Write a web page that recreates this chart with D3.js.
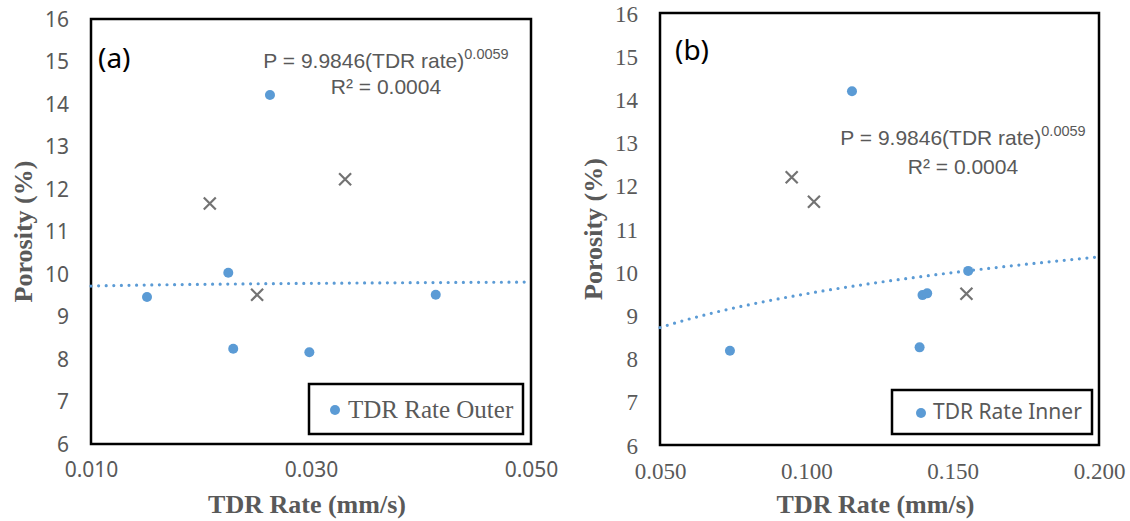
<!DOCTYPE html>
<html><head><meta charset="utf-8">
<script src="https://cdn.jsdelivr.net/npm/d3@7"></script>
<style>body{margin:0;background:#fff}</style>
</head><body><svg id="c" width="1130" height="521"></svg>
<script>
// ---- data ----
const outerRate = [0.01509, 0.02248, 0.02293, 0.02985, 0.04134, 0.02627];
const outerPorosity = [9.46, 10.03, 8.24, 8.16, 9.51, 14.21];
const outerExcludedRate = [0.0208, 0.0331, 0.0251];
const outerExcludedPorosity = [11.66, 12.23, 9.51];
const innerRate = [0.0739, 0.1156, 0.1553, 0.1397, 0.1413, 0.1387];
const innerPorosity = [8.18, 14.19, 10.03, 9.47, 9.51, 8.26];
const innerExcludedRate = [0.0950, 0.1026, 0.1547];
const innerExcludedPorosity = [12.2, 11.63, 9.50];
const outerTrend = [9.9846, 0.0059];   // P = a * x^b
const innerTrend = [12.64, 0.124];
const outerXTicks = [0.010, 0.030, 0.050];
const innerXTicks = [0.050, 0.100, 0.150, 0.200];
const yTicks = [6, 7, 8, 9, 10, 11, 12, 13, 14, 15, 16];
const equationMain = "P = 9.9846(TDR rate)";
const equationExp = "0.0059";
const equationR2 = "R² = 0.0004";

const svg = d3.select("#c");
const BLUE = "#5b9bd5", GREY = "#595959", XCOL = "#737373";
const SANS = "'Noto Sans', 'Open Sans', sans-serif";
const EQSANS = "'Liberation Sans', Arial, sans-serif";
const SERIF = "'Liberation Serif', 'DejaVu Serif', serif";

function panel(cfg) {
  const x = d3.scaleLinear().domain(cfg.xDomain).range(cfg.xRange);
  const y = d3.scaleLinear().domain([6, 16]).range(cfg.yRange);
  const g = svg.append("g");

  // y axis
  const ya = g.append("g").attr("transform", `translate(${cfg.xRange[0]},0)`)
    .call(d3.axisLeft(y).tickValues(yTicks).tickSize(0).tickPadding(22).tickFormat(d3.format("d")));
  ya.select(".domain").remove();
  ya.selectAll("text").attr("font-family", cfg.tickFont).attr("font-size", cfg.tickSize)
    .attr("fill", GREY).attr("dy", "0.35em");

  // x axis
  const xa = g.append("g").attr("transform", `translate(0,${cfg.yRange[0]})`)
    .call(d3.axisBottom(x).tickValues(cfg.xTicks).tickSize(0).tickPadding(18).tickFormat(d3.format(".3f")));
  xa.select(".domain").remove();
  xa.selectAll("text").attr("font-family", cfg.tickFont).attr("font-size", cfg.tickSize).attr("fill", GREY);

  // frame
  g.append("rect").attr("x", cfg.xRange[0]).attr("y", cfg.yRange[1])
    .attr("width", cfg.xRange[1] - cfg.xRange[0]).attr("height", cfg.yRange[0] - cfg.yRange[1])
    .attr("fill", "none").attr("stroke", "#000").attr("stroke-width", 2.5);

  // trend line
  const xs = d3.range(0, 101).map(i => cfg.xDomain[0] + (cfg.xDomain[1] - cfg.xDomain[0]) * i / 100);
  g.append("path").datum(xs)
    .attr("d", d3.line().x(d => x(d)).y(d => y(cfg.trend[0] * Math.pow(d, cfg.trend[1]))))
    .attr("fill", "none").attr("stroke", BLUE).attr("stroke-width", 3.2)
    .attr("stroke-linecap", "round").attr("stroke-dasharray", "0,7.6");

  // points
  g.selectAll("circle.pt").data(cfg.rate.map((r, i) => [r, cfg.por[i]])).join("circle")
    .attr("class", "pt").attr("cx", d => x(d[0])).attr("cy", d => y(d[1])).attr("r", 5).attr("fill", BLUE);

  // excluded markers
  const s = 6;
  g.selectAll("path.ex").data(cfg.exRate.map((r, i) => [r, cfg.exPor[i]])).join("path")
    .attr("class", "ex")
    .attr("d", d => { const cx = x(d[0]), cy = y(d[1]);
      return `M${cx - s},${cy - s}L${cx + s},${cy + s}M${cx - s},${cy + s}L${cx + s},${cy - s}`; })
    .attr("stroke", XCOL).attr("stroke-width", 2.2).attr("fill", "none");

  // panel label
  g.append("text").attr("x", cfg.labelPos[0]).attr("y", cfg.labelPos[1]).text(cfg.label)
    .attr("font-family", SANS).attr("font-size", 28).attr("fill", "#000");

  // equation
  const eq = g.append("text").attr("x", cfg.eqPos[0]).attr("y", cfg.eqPos[1]).attr("text-anchor", "middle")
    .attr("font-family", EQSANS).attr("font-size", 21).attr("fill", GREY);
  eq.append("tspan").text(equationMain);
  eq.append("tspan").attr("dy", -9).attr("font-size", 14.5).text(equationExp);
  g.append("text").attr("x", cfg.eqPos[0]).attr("y", cfg.eqPos[1] + cfg.eqGap).attr("text-anchor", "middle")
    .attr("font-family", EQSANS).attr("font-size", 21).attr("fill", GREY).text(equationR2);

  // legend
  const L = cfg.legend;
  g.append("rect").attr("x", L.x).attr("y", L.y).attr("width", L.w).attr("height", L.h)
    .attr("fill", "#fff").attr("stroke", "#000").attr("stroke-width", 2.5);
  g.append("circle").attr("cx", L.x + L.dot).attr("cy", L.y + L.h / 2 + 1).attr("r", 5).attr("fill", BLUE);
  g.append("text").attr("x", L.x + L.text).attr("y", L.y + L.h / 2).attr("dy", "0.35em")
    .attr("font-family", L.font).attr("font-size", L.size).attr("fill", GREY).text(L.label);

  // axis titles
  g.append("text").attr("x", (cfg.xRange[0] + cfg.xRange[1]) / 2 - 4).attr("y", 513)
    .attr("text-anchor", "middle").attr("font-family", SERIF).attr("font-weight", "bold")
    .attr("font-size", 26).attr("fill", GREY).text("TDR Rate (mm/s)");
  g.append("text").attr("transform", `translate(${cfg.yTitleX},${(cfg.yRange[0] + cfg.yRange[1]) / 2}) rotate(-90)`)
    .attr("text-anchor", "middle").attr("font-family", SERIF).attr("font-weight", "bold")
    .attr("font-size", 26).attr("fill", GREY).text("Porosity (%)");
}

panel({
  xDomain: [0.01, 0.05], xRange: [91, 531], yRange: [444, 19], xTicks: outerXTicks,
  tickFont: SANS, tickSize: 21,
  rate: outerRate, por: outerPorosity, exRate: outerExcludedRate, exPor: outerExcludedPorosity,
  trend: outerTrend, label: "(a)", labelPos: [98, 68], eqPos: [386, 68], eqGap: 26,
  legend: { x: 309, y: 384, w: 214, h: 50, dot: 26, text: 39, font: SERIF, size: 25, label: "TDR Rate Outer" },
  yTitleX: 32
});
panel({
  xDomain: [0.05, 0.2], xRange: [660, 1099], yRange: [445, 13], xTicks: innerXTicks,
  tickFont: SERIF, tickSize: 23,
  rate: innerRate, por: innerPorosity, exRate: innerExcludedRate, exPor: innerExcludedPorosity,
  trend: innerTrend, label: "(b)", labelPos: [675, 60], eqPos: [963, 145], eqGap: 29,
  legend: { x: 892, y: 390, w: 200, h: 44, dot: 29, text: 41, font: SANS, size: 21, label: "TDR Rate Inner" },
  yTitleX: 602
});
</script></body></html>
